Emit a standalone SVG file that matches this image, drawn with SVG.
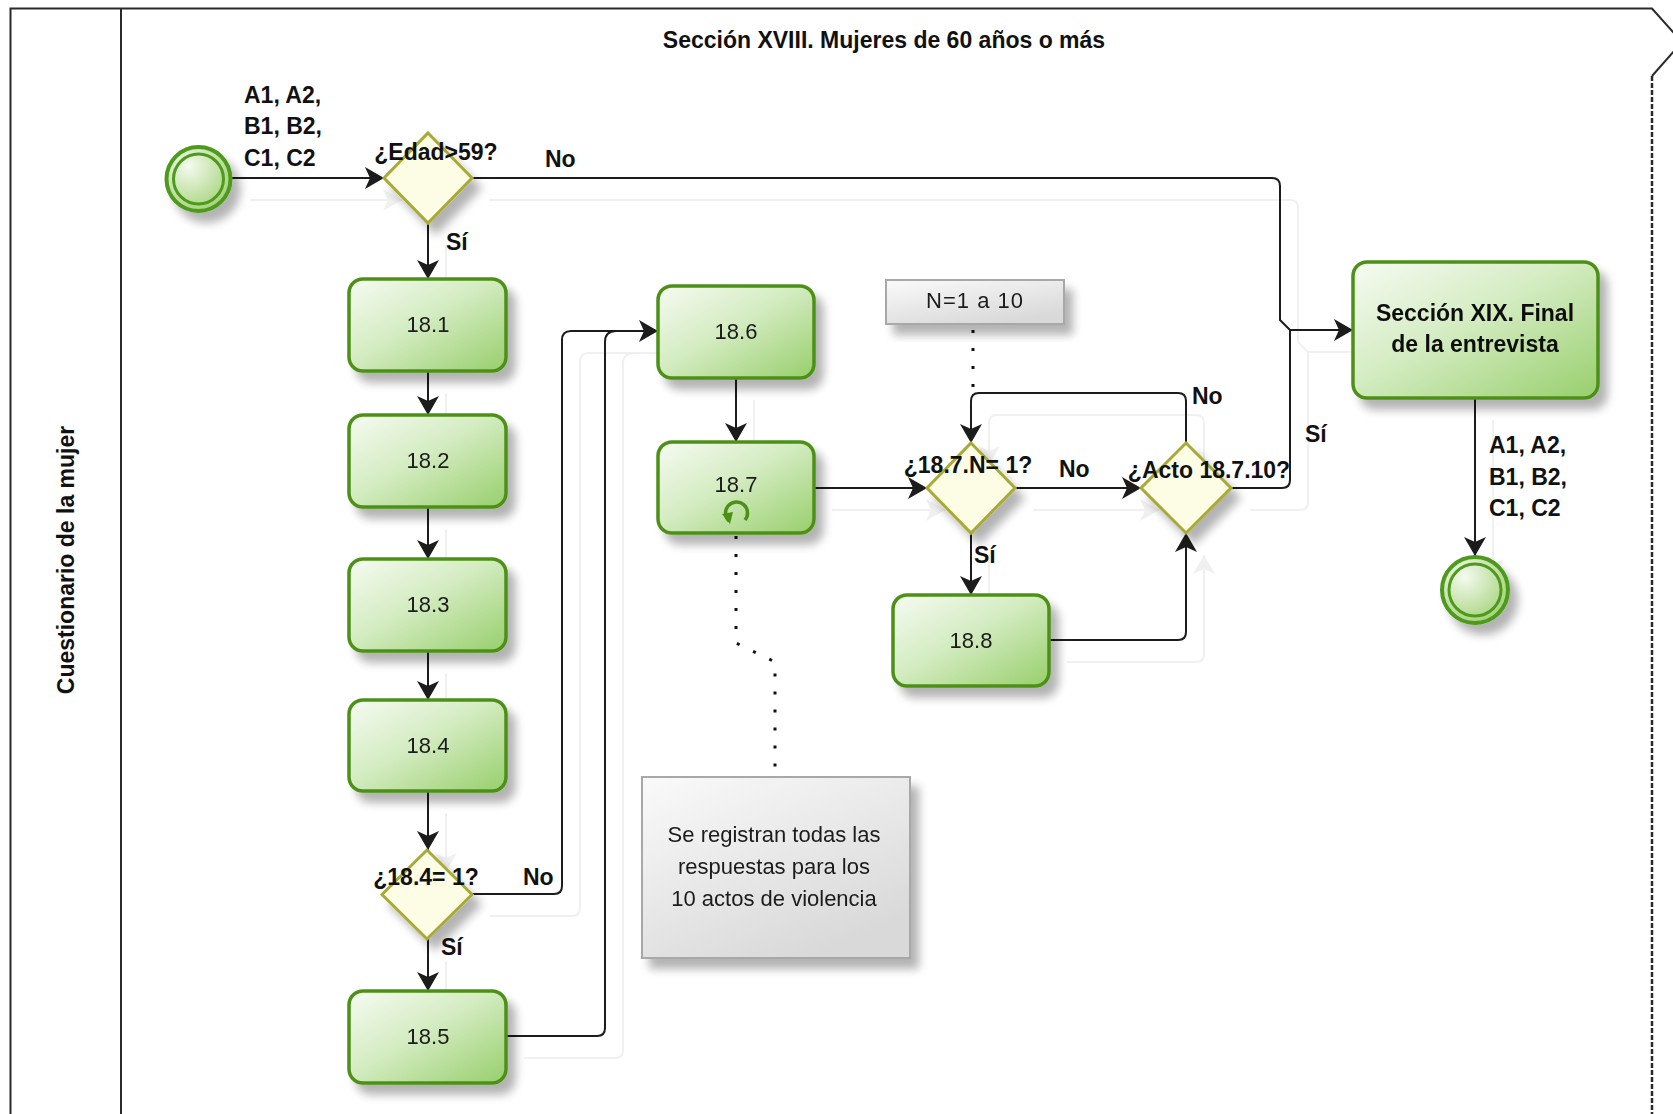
<svg xmlns="http://www.w3.org/2000/svg" width="1673" height="1114" viewBox="0 0 1673 1114">
<defs>
<linearGradient id="gTask" x1="0" y1="0" x2="1" y2="1">
<stop offset="0" stop-color="#f6fbf2"/>
<stop offset="0.45" stop-color="#d4ecc2"/>
<stop offset="1" stop-color="#98cf6c"/>
</linearGradient>
<radialGradient id="gEvent" cx="0.35" cy="0.3" r="0.8">
<stop offset="0" stop-color="#f4faef"/>
<stop offset="1" stop-color="#9ed072"/>
</radialGradient>
<linearGradient id="gNote" x1="0" y1="0" x2="0.6" y2="1">
<stop offset="0" stop-color="#fafafa"/>
<stop offset="1" stop-color="#d9d9d9"/>
</linearGradient>
<filter id="shadow" x="-20%" y="-20%" width="150%" height="160%">
<feGaussianBlur in="SourceAlpha" stdDeviation="5"/>
<feOffset dx="8" dy="10" result="b"/>
<feComponentTransfer><feFuncA type="linear" slope="0.3"/></feComponentTransfer>
<feMerge><feMergeNode/><feMergeNode in="SourceGraphic"/></feMerge>
</filter>
<filter id="cshadow" x="-5%" y="-5%" width="120%" height="120%">
<feOffset in="SourceAlpha" dx="18" dy="22"/>
<feComponentTransfer><feFuncA type="linear" slope="0.06"/></feComponentTransfer>
<feMerge><feMergeNode/><feMergeNode in="SourceGraphic"/></feMerge>
</filter>
<marker id="arr" markerUnits="userSpaceOnUse" markerWidth="24" markerHeight="24" refX="19" refY="11" orient="auto">
<path d="M0,0 L19,11 L0,22 L5,11 z" fill="#1a1a1a"/>
</marker>
<style>
.pool{fill:none;stroke:#2a2a2a;stroke-width:2}
.task{fill:url(#gTask);stroke:#4e9019;stroke-width:3.5}
.gw{fill:#fdfde6;stroke:#a9aa34;stroke-width:3}
.ev{fill:url(#gEvent);stroke:#4e9a1c;stroke-width:4}
.evi{fill:none;stroke:#4e9a1c;stroke-width:3}
.note{fill:url(#gNote);stroke:#a8a8a8;stroke-width:2}
.conn{fill:none;stroke:#1a1a1a;stroke-width:2}
.dot{fill:none;stroke:#111;stroke-width:3;stroke-dasharray:3 15}
.t{font-family:"Liberation Sans",Arial,sans-serif;font-size:22px;fill:#1a1a1a;text-anchor:middle}
.b{font-family:"Liberation Sans",Arial,sans-serif;font-size:23px;font-weight:bold;fill:#111}
.c{text-anchor:middle}
</style>
</defs>
<rect width="1673" height="1114" fill="#ffffff"/>

<g id="pool">
<path class="pool" d="M10.5,1114 L10.5,8.5 L1652,8.5 L1682,42 L1652,76"/>
<line x1="1652" y1="76" x2="1652" y2="1114" stroke="#2a2a2a" stroke-width="2.5" stroke-dasharray="5 2"/>
<line class="pool" x1="121" y1="8.5" x2="121" y2="1114"/>
<text class="b c" x="884" y="48">Sección XVIII. Mujeres de 60 años o más</text>
<text class="b c" transform="translate(74,560) rotate(-90)">Cuestionario de la mujer</text>
</g>

<g id="connectors">
<g filter="url(#cshadow)">
<path class="conn" d="M232,178 L384,178" marker-end="url(#arr)"/>
<path class="conn" d="M471,178 L1272,178 Q1280,178 1280,186 L1280,320 L1290,330 L1353,330" marker-end="url(#arr)"/>
<path class="conn" d="M428,223 L428,279" marker-end="url(#arr)"/>
<path class="conn" d="M428,371 L428,415" marker-end="url(#arr)"/>
<path class="conn" d="M428,507 L428,559" marker-end="url(#arr)"/>
<path class="conn" d="M428,651 L428,700" marker-end="url(#arr)"/>
<path class="conn" d="M428,791 L428,850" marker-end="url(#arr)"/>
<path class="conn" d="M428,939 L428,991" marker-end="url(#arr)"/>
<path class="conn" d="M472,894 L554,894 Q562,894 562,886 L562,340 Q562,331 571,331 L658,331" marker-end="url(#arr)"/>
<path class="conn" d="M506,1036 L597,1036 Q605,1036 605,1028 L605,342 Q605,331 616,331 L630,331"/>
<path class="conn" d="M736,378 L736,442" marker-end="url(#arr)"/>
<path class="conn" d="M814,488 L927,488" marker-end="url(#arr)"/>
<path class="conn" d="M1015,488 L1141,488" marker-end="url(#arr)"/>
<path class="conn" d="M1186,443 L1186,401 Q1186,393 1178,393 L979,393 Q971,393 971,401 L971,443" marker-end="url(#arr)"/>
<path class="conn" d="M971,533 L971,595" marker-end="url(#arr)"/>
<path class="conn" d="M1049,640 L1178,640 Q1186,640 1186,632 L1186,533" marker-end="url(#arr)"/>
<path class="conn" d="M1232,488 L1282,488 Q1290,488 1290,480 L1290,330"/>
<path class="conn" d="M1475,398 L1475,556" marker-end="url(#arr)"/>
</g>
<path class="dot" d="M973,330 L973,400"/>
<path class="dot" d="M736,536 L736,643 L775,662 L775,777"/>
<text class="b" x="244" y="103">A1, A2,</text>
<text class="b" x="244" y="134">B1, B2,</text>
<text class="b" x="244" y="166">C1, C2</text>
<text class="b" x="545" y="167">No</text>
<text class="b" x="446" y="250">Sí</text>
<text class="b" x="523" y="885">No</text>
<text class="b" x="441" y="955">Sí</text>
<text class="b" x="1059" y="477">No</text>
<text class="b" x="1192" y="404">No</text>
<text class="b" x="974" y="563">Sí</text>
<text class="b" x="1305" y="442">Sí</text>
<text class="b" x="1489" y="453">A1, A2,</text>
<text class="b" x="1489" y="485">B1, B2,</text>
<text class="b" x="1489" y="516">C1, C2</text>
</g>

<g id="start" filter="url(#shadow)">
<circle class="ev" cx="198.5" cy="179" r="32"/>
<circle class="evi" cx="198.5" cy="179" r="25"/>
</g>

<g id="gw-edad">
<polygon class="gw" filter="url(#shadow)" points="428,133 472,178 428,223 384,178"/>
<text class="b c" x="436" y="160">¿Edad&gt;59?</text>
</g>

<g id="t18-1" filter="url(#shadow)">
<rect class="task" x="349" y="279" width="157" height="92" rx="14"/>
<text class="t" x="428" y="332">18.1</text>
</g>
<g id="t18-2" filter="url(#shadow)">
<rect class="task" x="349" y="415" width="157" height="92" rx="14"/>
<text class="t" x="428" y="468">18.2</text>
</g>
<g id="t18-3" filter="url(#shadow)">
<rect class="task" x="349" y="559" width="157" height="92" rx="14"/>
<text class="t" x="428" y="612">18.3</text>
</g>
<g id="t18-4" filter="url(#shadow)">
<rect class="task" x="349" y="700" width="157" height="91" rx="14"/>
<text class="t" x="428" y="753">18.4</text>
</g>

<g id="gw-184">
<polygon class="gw" filter="url(#shadow)" points="427,850 472,894.5 427,939 382,894.5"/>
<text class="b c" x="426" y="885">¿18.4= 1?</text>
</g>

<g id="t18-5" filter="url(#shadow)">
<rect class="task" x="349" y="991" width="157" height="92" rx="14"/>
<text class="t" x="428" y="1044">18.5</text>
</g>

<g id="t18-6" filter="url(#shadow)">
<rect class="task" x="658" y="286" width="156" height="92" rx="14"/>
<text class="t" x="736" y="339">18.6</text>
</g>

<g id="t18-7" filter="url(#shadow)">
<rect class="task" x="658" y="442" width="156" height="91" rx="14"/>
<text class="t" x="736" y="492">18.7</text>
<path d="M729,521 A11,11 0 1 1 745,520" fill="none" stroke="#4e9019" stroke-width="3.5"/>
<path d="M722,514 L730,524 L733,512 z" fill="#4e9019"/>
</g>

<g id="note-n" filter="url(#shadow)">
<rect class="note" x="886" y="280" width="178" height="44"/>
<text class="t" x="975" y="308" letter-spacing="1">N=1 a 10</text>
</g>

<g id="gw-187">
<polygon class="gw" filter="url(#shadow)" points="971,443 1015,488 971,533 927,488"/>
<text class="b c" x="968" y="473">¿18.7.N= 1?</text>
</g>

<g id="gw-acto">
<polygon class="gw" filter="url(#shadow)" points="1186,443 1231,488 1186,533 1141,488"/>
<text class="b c" x="1209" y="478">¿Acto 18.7.10?</text>
</g>

<g id="t18-8" filter="url(#shadow)">
<rect class="task" x="893" y="595" width="156" height="91" rx="14"/>
<text class="t" x="971" y="648">18.8</text>
</g>

<g id="seccion-xix" filter="url(#shadow)">
<rect class="task" x="1353" y="262" width="245" height="136" rx="14"/>
<text class="b c" x="1475" y="321" font-size="22">Sección XIX. Final</text>
<text class="b c" x="1475" y="352" font-size="22">de la entrevista</text>
</g>

<g id="end" filter="url(#shadow)">
<circle class="ev" cx="1475" cy="590" r="33"/>
<circle class="evi" cx="1475" cy="590" r="26"/>
</g>

<g id="note-registro" filter="url(#shadow)">
<rect class="note" x="642" y="777" width="268" height="181"/>
<text class="t" x="774" y="842">Se registran todas las</text>
<text class="t" x="774" y="874">respuestas para los</text>
<text class="t" x="774" y="906">10 actos de violencia</text>
</g>
</svg>
